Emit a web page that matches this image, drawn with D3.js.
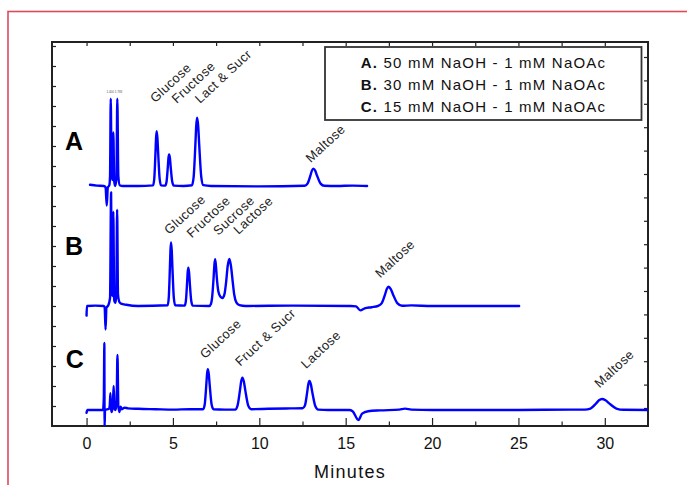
<!DOCTYPE html>
<html>
<head>
<meta charset="utf-8">
<script src="https://cdn.jsdelivr.net/npm/d3@7"></script>
<style>
  html, body { margin: 0; padding: 0; background: #fff; }
  svg { display: block; }
  text { font-family: "Liberation Sans", Arial, Helvetica, sans-serif; }
</style>
</head>
<body>
<svg id="chart" width="687" height="485"></svg>
<script>
// ---------------- DATA ----------------
const traceNames = ["A", "B", "C"];
const traceOffsets = [60, 30, 4];           // vertical stacking offsets (signal units)
const legendTexts = [
  ["A.", " 50 mM NaOH - 1 mM NaOAc"],
  ["B.", " 30 mM NaOH - 1 mM NaOAc"],
  ["C.", " 15 mM NaOH - 1 mM NaOAc"]
];
const minuteTicks = [0, 5, 10, 15, 20, 25, 30];
const minorTicks = [2.5, 7.5, 12.5, 17.5, 22.5, 27.5];
const xTitle = "Minutes";

// Trace A: [minutes, signal above baseline]
const traceA = [
  [0.20,0.3],[0.6,0.1],[1.0,0],[1.10,-0.3],[1.17,-4.9],[1.23,-0.4],[1.32,0.2],[1.36,2.5],[1.40,21.8],[1.45,3],
  [1.50,1.5],[1.55,13.4],[1.60,1.2],[1.66,0],[1.73,2],[1.78,21.8],[1.84,2.5],[1.92,0.2],[2.1,0],[3.0,0],
  [3.85,0.15],[3.92,1.85],[3.99,8.3],[4.025,12.1],[4.06,13.7],[4.10,12.1],[4.145,8.3],[4.23,1.85],[4.315,0.15],
  [4.555,0.1],[4.63,1.07],[4.705,4.8],[4.74,7.0],[4.78,7.9],[4.825,7.0],[4.87,4.8],[4.96,1.07],[5.05,0.1],
  [5.6,0],[6.10,0.2],[6.20,2.3],[6.30,10.4],[6.35,15.1],[6.40,17.1],[6.46,15.1],[6.52,10.4],[6.64,2.3],[6.76,0.2],
  [7.2,0],[10.0,-0.1],[12.62,0.05],[12.79,0.59],[12.96,2.64],[13.045,3.84],[13.13,4.35],[13.235,3.84],[13.34,2.64],
  [13.55,0.59],[13.76,0.05],[14.5,0],[15.4,0.1],[16.24,0]
];
const traceB = [
  [0,-2.4],[0.02,0],[0.5,0.1],[1.0,0],[1.05,-0.4],[1.10,-5.9],[1.15,-0.4],[1.25,0.1],[1.36,2],[1.42,28.4],
  [1.47,3],[1.51,2.5],[1.55,23.6],[1.60,1.5],[1.67,0.8],[1.72,2.5],[1.77,24.1],[1.82,3],[1.90,1],[2.0,0.6],
  [2.3,0.3],[3.0,0],[4.695,0.17],[4.76,2.15],[4.825,9.65],[4.858,14.0],[4.89,15.9],[4.93,14.0],[4.97,9.65],
  [5.05,2.15],[5.13,0.17],[5.68,0.1],[5.75,1.3],[5.82,5.83],[5.855,8.47],[5.89,9.6],[5.933,8.47],[5.975,5.83],
  [6.06,1.3],[6.145,0.1],[7.10,0],[7.20,0.5],[7.27,2.2],[7.355,7.1],[7.40,10.3],[7.44,11.7],[7.485,10.3],
  [7.54,7.1],[7.63,3.6],[7.75,2.3],[7.87,2.0],[7.98,2.9],[8.08,6.0],[8.17,10.0],[8.27,11.75],[8.36,10.0],
  [8.45,6.5],[8.55,2.8],[8.67,0.9],[8.85,0.2],[9.2,0],[12.0,0.1],[15.3,0],[15.6,-0.1],[15.85,-1.1],[16.1,-0.6],
  [16.5,-0.3],[16.88,0.05],[17.08,0.65],[17.28,2.9],[17.38,4.23],[17.48,4.8],[17.61,4.23],[17.74,2.9],[18.0,0.65],
  [18.26,0.05],[18.8,0.15],[20.0,0],[22.0,0],[25.04,0]
];
const traceC = [
  [0,-0.7],[0.05,0],[0.5,0],[0.95,0],[1.00,3],[1.03,16.75],[1.045,-4],[1.07,0],[1.30,0.3],[1.34,1],
  [1.38,4.2],[1.42,0.3],[1.46,-0.5],[1.52,1],[1.57,6],[1.62,0.3],[1.68,0],[1.74,2],[1.79,13.75],[1.84,1],
  [1.90,-0.5],[1.97,0.8],[2.05,0.2],[2.2,0.6],[2.4,0.4],[3.0,0.3],[4.0,0.2],[5.0,0.1],[6.0,0.2],
  [6.75,0.2],[6.84,1.38],[6.93,6.19],[6.975,9.0],[7.02,10.2],[7.075,9.0],[7.13,6.19],[7.24,1.38],[7.35,0.2],
  [8.0,0.1],[8.60,0.1],[8.74,1.1],[8.88,4.9],[8.95,7.15],[9.02,8.1],[9.105,7.15],[9.19,4.9],[9.36,1.1],[9.53,0.2],
  [10.5,0.3],[11.8,0.4],[12.51,0.45],[12.64,1.1],[12.77,4.4],[12.835,6.4],[12.9,7.25],[12.985,6.4],[13.07,4.4],
  [13.24,0.98],[13.41,0.1],[14.0,0],[15.2,0],[15.4,-0.3],[15.74,-2.5],[15.95,-0.9],[16.3,-0.3],[17.0,-0.1],
  [18.1,0.1],[18.44,0.35],[18.8,0.1],[20.0,0],[25.0,0],[28.0,0.1],[28.84,0.1],[29.17,0.37],[29.50,1.67],
  [29.665,2.43],[29.83,2.75],[30.04,2.43],[30.25,1.67],[30.67,0.37],[31.09,0.05],[32.5,0]
];
const traces = [traceA, traceB, traceC];

// Peak annotations: [text, minutes, signal (absolute)]
const peakLabelsA = [["Glucose",3.97,80.7],["Fructose",5.22,80.5],["Lact & Sucr",6.57,80.5],["Maltose",12.98,65.7]];
const peakLabelsB = [["Glucose",4.79,47.75],["Fructose",6.09,46.9],["Sucrose",7.63,47.5],["Lactose",8.79,47.75],["Maltose",17.0,36.9]];
const peakLabelsC = [["Glucose",6.86,16.7],["Fruct & Sucr",8.89,14.8],["Lactose",12.71,14.2],["Maltose",29.69,9.4]];
const peakLabels = [peakLabelsA, peakLabelsB, peakLabelsC];
// trace letter anchors [minutes, signal]
const traceLetterPos = [[-1.25,69],[-1.25,42.75],[-1.2,14.5]];

// ---------------- CHART ----------------
const svg = d3.select("#chart");
const L = 52, R = 648, T = 42, B = 426;

// outer red frame
svg.append("rect").attr("x", 8).attr("y", 11.5).attr("width", 700).attr("height", 500)
  .attr("fill", "none").attr("stroke", "#dc4a5c").attr("stroke-width", 1.6);

const x = d3.scaleLinear().domain([-2, 32.5]).range([L, R]);
const y = d3.scaleLinear().domain([0, 96]).range([B, T]);

svg.append("defs").append("clipPath").attr("id", "clip")
  .append("rect").attr("x", L).attr("y", T).attr("width", R - L).attr("height", B - T);

// axes
const gx = svg.append("g").attr("transform", `translate(0,${B})`)
  .call(d3.axisBottom(x).tickValues(minuteTicks).tickSizeInner(-8).tickSizeOuter(0).tickPadding(11.5).tickFormat(d3.format("d")));
gx.selectAll("text").attr("font-size", 16).attr("fill", "#111");
const gxm = svg.append("g").attr("transform", `translate(0,${B})`)
  .call(d3.axisBottom(x).tickValues(minorTicks).tickSizeInner(-4.5).tickSizeOuter(0).tickFormat(""));
const gt = svg.append("g").attr("transform", `translate(0,${T})`)
  .call(d3.axisTop(x).tickValues(minuteTicks.concat(minorTicks)).tickSizeInner(-4).tickSizeOuter(0).tickFormat(""));
const gl = svg.append("g").attr("transform", `translate(${L},0)`)
  .call(d3.axisLeft(y).tickValues(d3.range(5, 96, 5)).tickSizeInner(-4).tickSizeOuter(0).tickFormat(""));
const gr = svg.append("g").attr("transform", `translate(${R},0)`)
  .call(d3.axisRight(y).tickValues(d3.range(4.5, 96, 5.85)).tickSizeInner(-4).tickSizeOuter(0).tickFormat(""));
[gx, gxm, gt, gl, gr].forEach(g => {
  g.select(".domain").remove();
  g.selectAll(".tick line").attr("stroke", "#222").attr("stroke-width", 1.2);
});

// frame
svg.append("rect").attr("x", L).attr("y", T).attr("width", R - L).attr("height", B - T)
  .attr("fill", "none").attr("stroke", "#222").attr("stroke-width", 2);

// x title
svg.append("text").attr("x", (L + R) / 2).attr("y", 478).attr("text-anchor", "middle")
  .attr("font-size", 18).attr("letter-spacing", 1.3).attr("fill", "#111").text(xTitle);

// traces
const plot = svg.append("g").attr("clip-path", "url(#clip)");
traces.forEach((tr, i) => {
  const off = traceOffsets[i];
  const line = d3.line().x(d => x(d[0])).y(d => y(d[1] + off)).curve(d3.curveMonotoneX);
  plot.append("path").datum(tr).attr("d", line)
    .attr("fill", "none").attr("stroke", "#0000ff").attr("stroke-width", 2.4)
    .attr("stroke-linejoin", "round").attr("stroke-linecap", "round");
});

// tiny integration text above A spikes
svg.append("text").attr("x", x(1.15)).attr("y", y(83.2)).attr("font-size", 3).attr("fill", "#555")
  .text("1.400 1.783");

// peak labels
peakLabels.forEach(list => {
  list.forEach(([txt, t, v]) => {
    svg.append("text")
      .attr("transform", `translate(${x(t)},${y(v)}) rotate(-43)`)
      .attr("font-size", 13).attr("letter-spacing", 0.4).attr("fill", "#222").text(txt);
  });
});

// trace letters
traceNames.forEach((n, i) => {
  svg.append("text").attr("x", x(traceLetterPos[i][0])).attr("y", y(traceLetterPos[i][1]))
    .attr("font-size", 25).attr("font-weight", "bold").attr("fill", "#000").text(n);
});

// legend
const lg = svg.append("g");
lg.append("rect").attr("x", 325).attr("y", 47).attr("width", 316.5).attr("height", 73)
  .attr("fill", "#fff").attr("stroke", "#333").attr("stroke-width", 1.8);
legendTexts.forEach((lt, i) => {
  const tx = lg.append("text").attr("x", 483.5).attr("y", 68.3 + i * 21.7).attr("text-anchor", "middle")
    .attr("font-size", 15).attr("letter-spacing", 1.2).attr("fill", "#111");
  tx.append("tspan").attr("font-weight", "bold").text(lt[0]);
  tx.append("tspan").text(lt[1]);
});
</script>
</body>
</html>
